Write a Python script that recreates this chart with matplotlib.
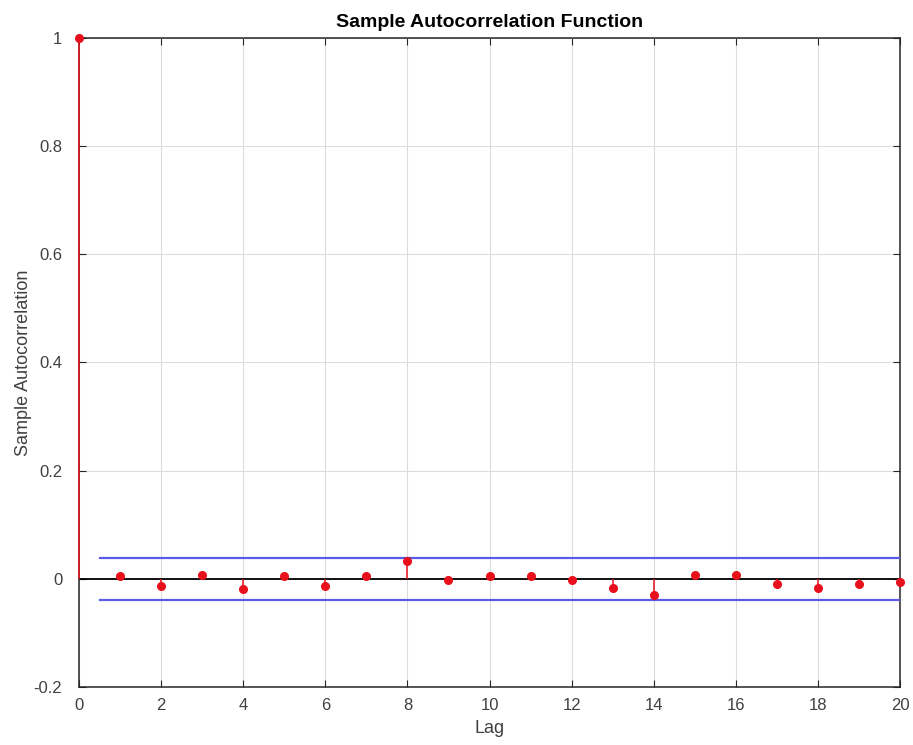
import matplotlib
matplotlib.use('Agg')
import matplotlib.pyplot as plt

lags = list(range(21))
acf = [1.0, 0.006, -0.013, 0.008, -0.018, 0.006, -0.013, 0.006, 0.033, -0.003,
       0.006, 0.006, -0.003, -0.017, -0.030, 0.008, 0.008, -0.009, -0.017, -0.009, -0.006]
bound = 0.039

plt.rcParams['font.family'] = ['Liberation Sans', 'DejaVu Sans']

fig = plt.figure(figsize=(9.13, 7.45), dpi=100)
ax = fig.add_axes([79/913, 1 - 687/745, (900 - 79)/913, (687 - 38)/745])

ax.grid(True, color='#dcdcdc', linewidth=0.8, zorder=0)
ax.axhline(0, color='black', linewidth=1.3, zorder=2)
ax.vlines(lags, 0, acf, color='#e8101c', linewidth=1.1, zorder=5, clip_on=False)
ax.plot(lags, acf, 'o', color='#e8101c', markersize=5.5, zorder=6, clip_on=False)
ax.plot([0.5, 20], [bound, bound], color='#5a5ae6', linewidth=1.6, zorder=3)
ax.plot([0.5, 20], [-bound, -bound], color='#5a5ae6', linewidth=1.6, zorder=3)

ax.set_xlim(0, 20)
ax.set_ylim(-0.2, 1)
ax.set_xticks(range(0, 21, 2))
ax.set_yticks([-0.2, 0, 0.2, 0.4, 0.6, 0.8, 1])
ax.set_yticklabels(['-0.2', '0', '0.2', '0.4', '0.6', '0.8', '1'])
ax.tick_params(direction='in', length=5, color='#262626', labelcolor='#404040',
               labelsize=12, top=True, right=True)
ax.tick_params(axis='x', pad=8)
ax.tick_params(axis='y', pad=12)
for s in ax.spines.values():
    s.set_color('#262626')
    s.set_linewidth(1.1)

ax.set_title('Sample Autocorrelation Function', fontsize=14, fontweight='bold', pad=8)
ax.set_xlabel('Lag', fontsize=13, color='#404040', labelpad=5)
ax.set_ylabel('Sample Autocorrelation', fontsize=13, color='#404040', labelpad=1)

fig.savefig('out.png', dpi=100)
